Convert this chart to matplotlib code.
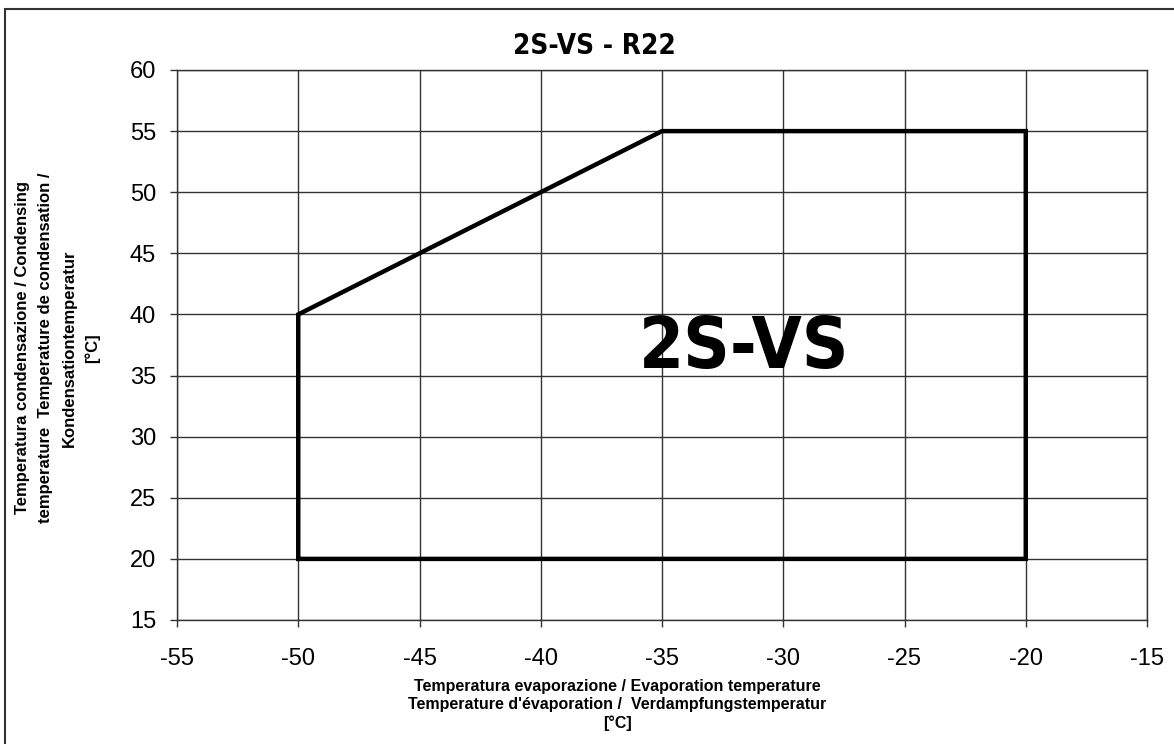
import numpy as np
import matplotlib.pyplot as plt
from matplotlib.patches import Rectangle

# operating envelope corners (evaporation, condensing) in deg C
evap = [-50, -50, -35, -20, -20, -50]
cond = [20, 40, 55, 55, 20, 20]

x_ticks = np.arange(-55, -14, 5)
y_ticks = np.arange(15, 61, 5)

title = "2S-VS - R22"
model = "2S-VS"
x_label = ["Temperatura evaporazione / Evaporation temperature",
           "Temperature d'évaporation /  Verdampfungstemperatur",
           "[°C]"]
y_label = ["Temperatura condensazione / Condensing",
           "temperature  Temperature de condensation /",
           "Kondensationtemperatur",
           "[°C]"]

plt.rcParams['font.family'] = ['Liberation Sans', 'DejaVu Sans']
plt.rcParams['axes.unicode_minus'] = False

fig = plt.figure(figsize=(11.74, 7.44), dpi=100)
ax = fig.add_axes([177/1174, 1-620/744, 970/1174, 550/744])

ax.plot(evap, cond, color="black", lw=3.2, solid_joinstyle="miter", zorder=3)

ax.set_xlim(-55, -15)
ax.set_ylim(15, 60)
ax.set_xticks(x_ticks)
ax.set_yticks(y_ticks)
ax.grid(True, color="#333333", lw=1.0)
for s in ax.spines.values():
    s.set_color("#333333")
    s.set_linewidth(1.0)
ax.tick_params(axis="x", direction="out", length=5, width=1, color="#333333",
               labelsize=17, pad=15)
ax.tick_params(axis="y", direction="out", length=5, width=1, color="#333333",
               labelsize=17, pad=10)

# big model name inside the envelope (condensed bold)
ax.text(-31.6, 37.2, model, fontsize=52, fontweight="bold",
        family="DejaVu Sans", stretch="condensed", ha="center", va="center")

fig.text(594/1174, 1-46/744, title, fontsize=20, fontweight="bold",
         family="DejaVu Sans", stretch="condensed", ha="center", va="center")

for i, line in enumerate(x_label):
    fig.text(617/1174, 1-(686+i*18.5)/744, line, fontsize=11.5,
             fontweight="bold", ha="center", va="center")

for i, line in enumerate(y_label):
    fig.text((23+i*23)/1174, 1-348/744, line, fontsize=12,
             fontweight="bold", ha="center", va="center", rotation=90)

# frame around the whole picture
fig.patches.append(Rectangle((5/1174, -0.05), 1.1, 1-9/744+0.05,
                             transform=fig.transFigure, fill=False,
                             edgecolor="#333333", lw=1.5))

fig.savefig("out.png", dpi=100)
